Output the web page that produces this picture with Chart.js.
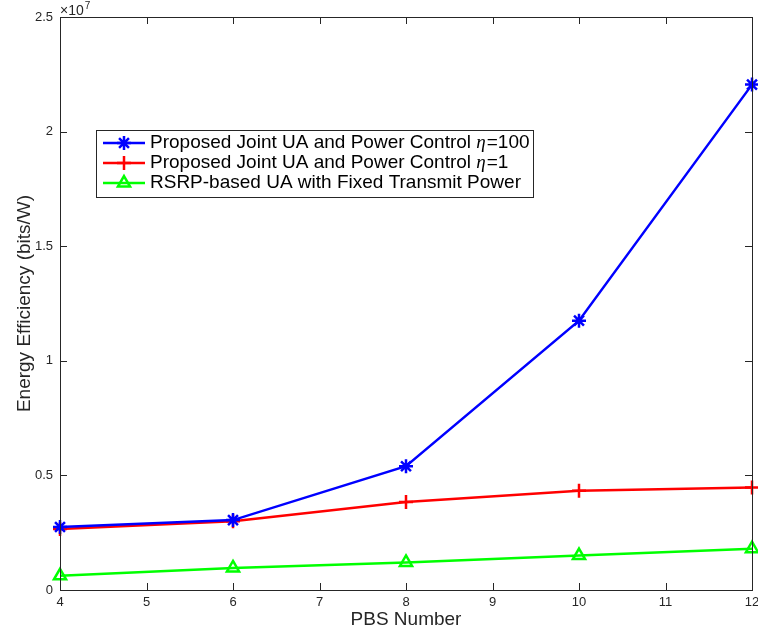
<!DOCTYPE html>
<html>
<head>
<meta charset="utf-8">
<script src="https://cdn.jsdelivr.net/npm/chart.js@4"></script>
<style>
  html, body { margin: 0; padding: 0; background: #fff; }
  #wrap { width: 758px; height: 635px; }
</style>
</head>
<body>
<div id="wrap"><canvas id="eeChart" width="758" height="635"></canvas></div>
<script>
const pbsNumber = [4, 6, 8, 10, 12];
const jointEta100 = [2.75e6, 3.05e6, 5.4e6, 11.75e6, 22.05e6];
const jointEta1 = [2.66e6, 3.0e6, 3.84e6, 4.33e6, 4.47e6];
const rsrpFixed = [0.62e6, 0.96e6, 1.2e6, 1.5e6, 1.8e6];
const seriesLabels = [
    'Proposed Joint UA and Power Control η=100',
    'Proposed Joint UA and Power Control η=1',
    'RSRP-based UA with Fixed Transmit Power'
];
const yTickValues = [0, 0.5e7, 1e7, 1.5e7, 2e7, 2.5e7];

const axisColor = '#262626';
const fontFamily = '"Liberation Sans", Arial, Helvetica, sans-serif';

function toPoints(ys) {
    return pbsNumber.map((x, i) => ({ x: x, y: ys[i] }));
}

// box, inward ticks, exponent label and matlab-style legend
const matlabAxes = {
    id: 'matlabAxes',
    afterDraw(chart) {
        const ctx = chart.ctx;
        const a = chart.chartArea;
        const xs = chart.scales.x, ys = chart.scales.y;
        const tl = 7;
        ctx.save();
        ctx.strokeStyle = axisColor;
        ctx.lineWidth = 1;
        ctx.strokeRect(Math.round(a.left) + 0.5, Math.round(a.top) + 0.5,
            Math.round(a.right - a.left), Math.round(a.bottom - a.top));
        ctx.beginPath();
        xs.ticks.forEach(t => {
            const px = Math.round(xs.getPixelForValue(t.value)) + 0.5;
            ctx.moveTo(px, a.bottom); ctx.lineTo(px, a.bottom - tl);
            ctx.moveTo(px, a.top); ctx.lineTo(px, a.top + tl);
        });
        ys.ticks.forEach(t => {
            const py = Math.round(ys.getPixelForValue(t.value)) + 0.5;
            ctx.moveTo(a.left, py); ctx.lineTo(a.left + tl, py);
            ctx.moveTo(a.right, py); ctx.lineTo(a.right - tl, py);
        });
        ctx.stroke();

        // x10^7
        ctx.fillStyle = axisColor;
        ctx.textBaseline = 'alphabetic';
        ctx.textAlign = 'left';
        ctx.font = '14px ' + fontFamily;
        ctx.fillText('\u00d710', a.left, a.top - 2);
        const w = ctx.measureText('\u00d710').width;
        ctx.font = '10px ' + fontFamily;
        ctx.fillText('7', a.left + 1 + w, a.top - 8);

        // legend
        const lx = 96, ly = 130, lw = 437, lh = 67;
        ctx.fillStyle = '#fff';
        ctx.fillRect(lx, ly, lw, lh);
        ctx.strokeStyle = axisColor;
        ctx.strokeRect(lx + 0.5, ly + 0.5, lw, lh);
        chart.data.datasets.forEach((ds, i) => {
            const yy = ly + 13 + i * 20;
            ctx.strokeStyle = ds.borderColor;
            ctx.lineWidth = ds.borderWidth;
            ctx.beginPath();
            ctx.moveTo(103, yy); ctx.lineTo(145, yy);
            ctx.stroke();
            ctx.fillStyle = 'rgba(0,0,0,0)';
            Chart.helpers.drawPoint(ctx, {
                pointStyle: ds.pointStyle,
                radius: ds.pointRadius,
                borderWidth: ds.pointBorderWidth
            }, 124, yy);
            ctx.fillStyle = '#000';
            ctx.textBaseline = 'middle';
            let x = 150;
            const parts = ds.label.split('η');
            parts.forEach((p, k) => {
                if (k > 0) {
                    ctx.font = 'italic 19px "Liberation Serif", serif';
                    ctx.fillText('η', x, yy);
                    x += ctx.measureText('η').width + 1;
                }
                ctx.font = '19px ' + fontFamily;
                ctx.fillText(p, x, yy);
                x += ctx.measureText(p).width;
            });
        });
        ctx.restore();
    }
};

const colors = ['#0000ff', '#ff0000', '#00ff00'];
const styles = ['star', 'cross', 'triangle'];
const seriesData = [jointEta100, jointEta1, rsrpFixed];

const ctx = document.getElementById('eeChart').getContext('2d');
const eeChart = new Chart(ctx, {
    type: 'line',
    data: {
        datasets: seriesData.map((d, i) => ({
            label: seriesLabels[i],
            data: toPoints(d),
            borderColor: colors[i],
            backgroundColor: 'rgba(0,0,0,0)',
            pointBorderColor: colors[i],
            pointBackgroundColor: 'rgba(0,0,0,0)',
            borderWidth: 2.5,
            pointBorderWidth: 2.5,
            pointStyle: styles[i],
            pointRadius: 7,
            tension: 0,
            clip: false
        }))
    },
    options: {
        responsive: false,
        animation: false,
        layout: { autoPadding: false, padding: { top: 17, right: 6, left: 0, bottom: 0 } },
        plugins: {
            legend: { display: false },
            tooltip: { enabled: false }
        },
        scales: {
            x: {
                type: 'linear',
                min: 4, max: 12,
                border: { display: false },
                grid: { display: false, drawTicks: false },
                ticks: {
                    stepSize: 1,
                    color: axisColor,
                    padding: 5,
                    font: { family: fontFamily, size: 13 }
                },
                title: {
                    display: true,
                    text: 'PBS Number',
                    color: axisColor,
                    padding: { top: 0, bottom: 4 },
                    font: { family: fontFamily, size: 19 }
                },
                afterFit: s => { s.height = 45; s.paddingLeft = 0; s.paddingRight = 0; }
            },
            y: {
                min: 0, max: 2.5e7,
                border: { display: false },
                grid: { display: false, drawTicks: false },
                afterBuildTicks: s => { s.ticks = yTickValues.map(v => ({ value: v })); },
                ticks: {
                    color: axisColor,
                    padding: 7,
                    font: { family: fontFamily, size: 13 },
                    callback: v => String(v / 1e7)
                },
                title: {
                    display: true,
                    text: 'Energy Efficiency (bits/W)',
                    color: axisColor,
                    padding: { top: 13, bottom: 4 },
                    font: { family: fontFamily, size: 19 }
                },
                afterFit: s => { s.width = 60; s.paddingTop = 0; s.paddingBottom = 0; }
            }
        }
    },
    plugins: [matlabAxes]
});
</script>
</body>
</html>
